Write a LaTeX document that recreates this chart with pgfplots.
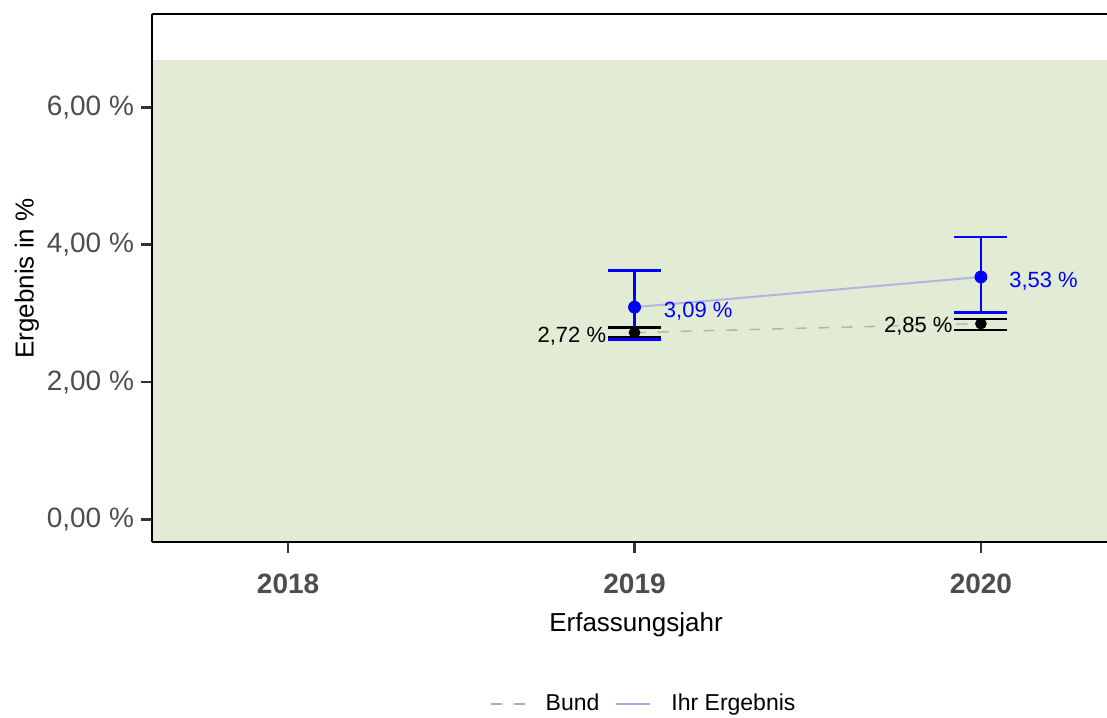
\documentclass[border=0pt]{standalone}
\usepackage{fontspec}
\setmainfont{Liberation Sans}
\usepackage{pgfplots}
\pgfplotsset{compat=1.18}
\definecolor{bg}{HTML}{E2EBD3}
\definecolor{ticklab}{HTML}{4D4D4D}
\definecolor{tickc}{HTML}{333333}
\definecolor{blueline}{HTML}{B0B6E0}
\definecolor{blueleg}{HTML}{A6A6F5}
\definecolor{bundline}{HTML}{B5BBA8}
\definecolor{bundleg}{HTML}{ABABAB}
\begin{document}
\begin{tikzpicture}
\begin{axis}[
  scale only axis, width=477.5pt, height=264pt,
  xmin=2017.607, xmax=2020.364, ymin=-0.33, ymax=7.36,
  axis x line=box, axis y line=left,
  axis line style={-, line width=1pt, black},
  axis on top,
  xtick={2018,2019,2020}, xticklabels={2018,2019,2020},
  ytick={0,2,4,6}, yticklabels={{0,00 \%},{2,00 \%},{4,00 \%},{6,00 \%}},
  xtick pos=bottom, ytick pos=left,
  tick align=outside, major tick length=5.5pt,
  tick style={line width=1.2pt, color=tickc},
  xticklabel style={font=\fontsize{14}{16}\selectfont\bfseries, text=ticklab, yshift=-7pt},
  yticklabel style={font=\fontsize{14}{16}\selectfont, text=ticklab},
  xlabel={Erfassungsjahr}, ylabel={Ergebnis in \%},
  xlabel style={font=\fontsize{13}{15}\selectfont, at={(axis description cs:0.5068,-0.157)}, anchor=center},
  ylabel style={font=\fontsize{13}{15}\selectfont, at={(axis description cs:-0.1309,0.499)}, anchor=center},
  legend style={at={(axis description cs:0.516,-0.307)}, anchor=center, draw=none, fill=none,
    font=\fontsize{11.5}{13}\selectfont, inner sep=0pt,
    /tikz/every odd column/.append style={column sep=8pt},
    /tikz/every even column/.append style={column sep=6pt}},
  legend columns=2,
  legend image code/.code={\draw[#1] (0pt,0pt) -- (17pt,0pt);},
]
% background band
\addplot[fill=bg, draw=none, forget plot] coordinates {(2017,-1) (2021,-1) (2021,6.685) (2017,6.685)} -- cycle;
% lines
\addplot[color=bundline, line width=0.8pt, dash pattern=on 5.5pt off 6pt, forget plot] coordinates {(2019,2.72) (2020,2.85)};
\addplot[color=blueline, line width=1pt, forget plot] coordinates {(2019,3.09) (2020,3.53)};
% Bund error bars + points
\addplot[black, only marks, mark=*, mark size=2.7pt, forget plot,
  error bars/.cd, y dir=both, y explicit, error mark=|,
  error bar style={line width=1.3pt, black},
  error mark options={line width=1.3pt, black, mark size=13.25pt}]
  coordinates {(2019,2.72) += (0,0.07) -= (0,0.07)
               (2020,2.85) += (0,0.07) -= (0,0.09)};
% Ihr Ergebnis error bars + points
\addplot[blue, only marks, mark=*, mark size=3pt, forget plot,
  error bars/.cd, y dir=both, y explicit, error mark=|,
  error bar style={line width=1.3pt, blue},
  error mark options={line width=1.3pt, blue, mark size=13.25pt}]
  coordinates {(2019,3.09) += (0,0.53) -= (0,0.47)
               (2020,3.53) += (0,0.58) -= (0,0.515)};
% labels
\node[anchor=west, inner sep=0pt, text=blue, font=\fontsize{11}{13}\selectfont, xshift=14.5pt, yshift=-2pt] at (axis cs:2019,3.09) {3,09 \%};
\node[anchor=west, inner sep=0pt, text=blue, font=\fontsize{11}{13}\selectfont, xshift=14pt, yshift=-2pt] at (axis cs:2020,3.53) {3,53 \%};
\node[anchor=east, inner sep=0pt, text=black, font=\fontsize{11}{13}\selectfont, xshift=-14pt, yshift=-2pt] at (axis cs:2019,2.72) {2,72 \%};
\node[anchor=east, inner sep=0pt, text=black, font=\fontsize{11}{13}\selectfont, xshift=-14pt, yshift=-1.5pt] at (axis cs:2020,2.85) {2,85 \%};
% legend
\addlegendimage{color=bundleg, line width=0.8pt, dash pattern=on 5.5pt off 6pt}
\addlegendentry{Bund}
\addlegendimage{color=blueleg, line width=1pt}
\addlegendentry{Ihr Ergebnis}
\end{axis}
\pgfresetboundingbox
\useasboundingbox (-76pt,-87.5pt) rectangle (477.5pt,271pt);
\end{tikzpicture}
\end{document}
